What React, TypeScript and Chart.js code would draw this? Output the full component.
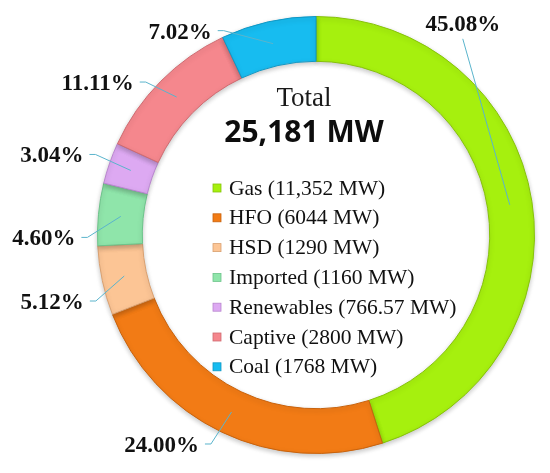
import { useEffect, useRef } from "react";
import { Chart, registerables } from "chart.js";

Chart.register(...registerables);

// ---- data ----
const categories = ["Gas", "HFO", "HSD", "Imported", "Renewables", "Captive", "Coal"];
const capacityMW = [11352, 6044, 1290, 1160, 766.57, 2800, 1768];
const legendLabels = [
  "Gas (11,352 MW)",
  "HFO (6044 MW)",
  "HSD (1290 MW)",
  "Imported (1160 MW)",
  "Renewables (766.57 MW)",
  "Captive (2800 MW)",
  "Coal (1768 MW)",
];
const percentLabels = ["45.08%", "24.00%", "5.12%", "4.60%", "3.04%", "11.11%", "7.02%"];
const totalTitle = "Total";
const totalValue = "25,181 MW";

// ---- styles ----
const sliceColors = ["#A6F00E", "#F27B15", "#FCC595", "#8FE5AA", "#DDA9F2", "#F5878D", "#17BCF0"];
const sliceBorders = ["#86C20A", "#C8620C", "#D9A070", "#6CC38A", "#B985CF", "#CF6A70", "#0F97C4"];
// label text centre offset from the slice's mid-ring point (dx, dy)
const labelOffsets: [number, number][] = [
  [-47, -180],
  [-70, 34],
  [-72, 27],
  [-77, 23],
  [-79, -14],
  [-79, -13],
  [-93, -11],
];

const overlayPlugin = {
  id: "overlay",
  beforeDatasetsDraw(chart: any) {
    const ctx = chart.ctx;
    ctx.save();
    ctx.shadowColor = "rgba(0,0,0,0.22)";
    ctx.shadowBlur = 5;
    ctx.shadowOffsetY = 2;
  },
  afterDatasetsDraw(chart: any) {
    chart.ctx.restore();
  },
  afterDraw(chart: any) {
    const ctx = chart.ctx;
    const area = chart.chartArea;
    const cx = (area.left + area.right) / 2;
    const cy = (area.top + area.bottom) / 2;
    const meta = chart.getDatasetMeta(0);

    // percentage labels + leader lines
    ctx.save();
    ctx.font = "bold 23px 'Liberation Serif'";
    ctx.textBaseline = "middle";
    ctx.textAlign = "center";
    meta.data.forEach((arc: any, i: number) => {
      const p = arc.getProps(["x", "y", "startAngle", "endAngle", "innerRadius", "outerRadius"], true);
      const mid = (p.startAngle + p.endAngle) / 2;
      const r = (p.innerRadius + p.outerRadius) / 2;
      const ax = p.x + Math.cos(mid) * r;
      const ay = p.y + Math.sin(mid) * r;
      const [dx, dy] = labelOffsets[i];
      const lx = ax + dx;
      const ly = ay + dy;
      const w = ctx.measureText(percentLabels[i]).width;
      ctx.strokeStyle = "#5AB4CC";
      ctx.lineWidth = 1;
      ctx.beginPath();
      if (i === 0) {
        ctx.moveTo(lx, ly + 14);
        ctx.lineTo(ax, ay);
      } else {
        const sx = lx + w / 2 + 6;
        const sy = ly - 2;
        ctx.moveTo(sx, sy);
        ctx.lineTo(sx + 6, sy);
        ctx.lineTo(ax, ay);
      }
      ctx.stroke();
      ctx.fillStyle = "#111";
      ctx.fillText(percentLabels[i], lx, ly);
    });
    ctx.restore();

    // centre title
    ctx.save();
    ctx.textAlign = "center";
    ctx.textBaseline = "alphabetic";
    ctx.fillStyle = "#1a1a1a";
    ctx.font = "27px 'Liberation Serif'";
    ctx.fillText(totalTitle, cx - 12, cy - 129);
    ctx.font = "bold 30px 'Open Sans'";
    ctx.fillStyle = "#0d0d0d";
    ctx.fillText(totalValue, cx - 12, cy - 93);
    ctx.restore();

    // legend
    ctx.save();
    ctx.font = "21.5px 'Liberation Serif'";
    ctx.textBaseline = "middle";
    ctx.textAlign = "left";
    legendLabels.forEach((t, i) => {
      const y = cy - 47 + i * 29.8;
      const mx = cx - 103;
      ctx.fillStyle = sliceColors[i];
      ctx.fillRect(mx, y - 4, 8, 8);
      ctx.strokeStyle = sliceBorders[i];
      ctx.lineWidth = 0.8;
      ctx.strokeRect(mx, y - 4, 8, 8);
      ctx.fillStyle = "#111";
      ctx.fillText(t, cx - 87, y + 1);
    });
    ctx.restore();
  },
};

export default function App() {
  const ref = useRef<HTMLCanvasElement | null>(null);
  useEffect(() => {
    document.body.style.margin = "0";
    if (!ref.current) return;
    const chart = new Chart(ref.current, {
      type: "doughnut",
      data: {
        labels: categories,
        datasets: [
          {
            data: capacityMW,
            backgroundColor: sliceColors,
            borderColor: sliceBorders,
            borderWidth: 1,
          },
        ],
      },
      options: {
        responsive: false,
        animation: false,
        cutout: "79.5%",
        layout: { padding: { left: 97, right: 15, top: 16, bottom: 19 } },
        plugins: {
          legend: { display: false },
          tooltip: { enabled: false },
        },
      },
      plugins: [overlayPlugin],
    });
    return () => chart.destroy();
  }, []);
  return (
    <div style={{ width: 550, height: 473, background: "#fff" }}>
      <canvas ref={ref} width={550} height={473} />
    </div>
  );
}
